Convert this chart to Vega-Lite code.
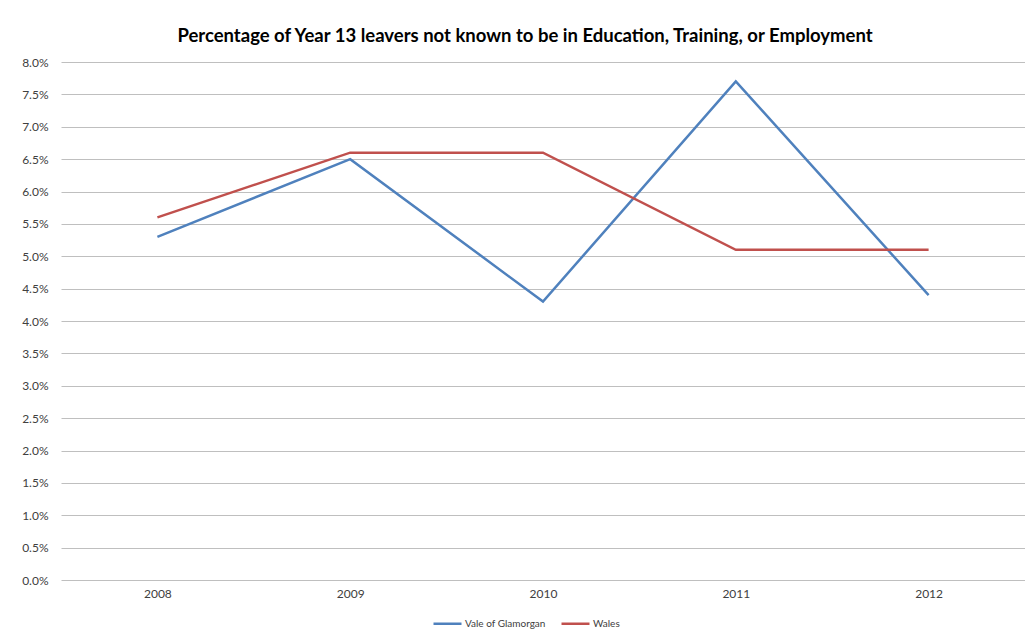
{
  "$schema": "https://vega.github.io/schema/vega-lite/v6.json",
  "width": 964,
  "height": 518,
  "autosize": {"type": "none"},
  "padding": {"left": 61, "top": 62, "right": 0, "bottom": 52},
  "background": "white",
  "title": {
    "text": "Percentage of Year 13 leavers not known to be in Education, Training, or Employment",
    "font": "Lato",
    "fontSize": 18.5,
    "fontWeight": "bold",
    "color": "#000000",
    "anchor": "middle",
    "dx": -18,
    "offset": 11
  },
  "config": {
    "view": {"stroke": null},
    "font": "Lato"
  },
  "data": {
    "values": [
      {"year": "2008", "series": "Vale of Glamorgan", "value": 0.053},
      {"year": "2009", "series": "Vale of Glamorgan", "value": 0.065},
      {"year": "2010", "series": "Vale of Glamorgan", "value": 0.043},
      {"year": "2011", "series": "Vale of Glamorgan", "value": 0.077},
      {"year": "2012", "series": "Vale of Glamorgan", "value": 0.044},
      {"year": "2008", "series": "Wales", "value": 0.056},
      {"year": "2009", "series": "Wales", "value": 0.066},
      {"year": "2010", "series": "Wales", "value": 0.066},
      {"year": "2011", "series": "Wales", "value": 0.051},
      {"year": "2012", "series": "Wales", "value": 0.051}
    ]
  },
  "mark": {"type": "line", "strokeWidth": 2.5},
  "encoding": {
    "x": {
      "field": "year",
      "type": "ordinal",
      "scale": {"type": "point", "padding": 0.5},
      "axis": {
        "title": null,
        "labelAngle": 0,
        "labelFont": "Lato",
        "labelFontSize": 12,
        "labelColor": "#404040",
        "ticks": false,
        "domain": false,
        "labelPadding": 8,
        "grid": false
      }
    },
    "y": {
      "field": "value",
      "type": "quantitative",
      "scale": {"domain": [0, 0.08], "nice": false},
      "axis": {
        "title": null,
        "format": ".1%",
        "values": [0, 0.005, 0.01, 0.015, 0.02, 0.025, 0.03, 0.035, 0.04, 0.045, 0.05, 0.055, 0.06, 0.065, 0.07, 0.075, 0.08],
        "labelFont": "Lato",
        "labelFontSize": 12,
        "labelColor": "#404040",
        "ticks": false,
        "domain": false,
        "labelPadding": 13,
        "grid": true,
        "gridColor": "#bfbfbf",
        "gridWidth": 1
      }
    },
    "color": {
      "field": "series",
      "type": "nominal",
      "scale": {"domain": ["Vale of Glamorgan", "Wales"], "range": ["#4f81bd", "#c0504d"]},
      "legend": {
        "title": null,
        "orient": "none",
        "legendX": 371,
        "legendY": 546,
        "direction": "horizontal",
        "symbolType": "stroke",
        "symbolSize": 784,
        "symbolStrokeWidth": 2.5,
        "labelFont": "Lato",
        "labelFontSize": 10,
        "labelColor": "#404040",
        "labelOffset": 2,
        "columnPadding": 10
      }
    }
  }
}
